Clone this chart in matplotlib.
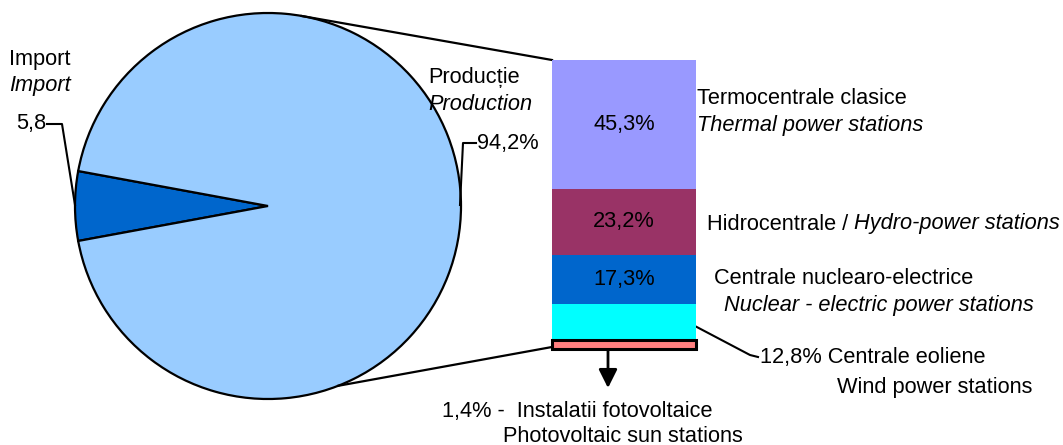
import numpy as np
import matplotlib
matplotlib.use("Agg")
import matplotlib.pyplot as plt

plt.rcParams['font.family'] = ['Liberation Sans', 'DejaVu Sans']

# ---- data ----
pie_labels_ro = ["Import", "Producție"]
pie_labels_en = ["Import", "Production"]
pie_values = [5.8, 94.2]
pie_value_text = ["5,8", "94,2%"]
pie_colors = ["#0066CC", "#99CCFF"]

bar_categories = ["Termocentrale clasice", "Hidrocentrale", "Centrale nuclearo-electrice",
                  "Centrale eoliene", "Instalatii fotovoltaice"]
bar_values = [45.3, 23.2, 17.3, 12.8, 1.4]
bar_value_text = ["45,3%", "23,2%", "17,3%", "12,8%", "1,4%"]
bar_colors = ["#9999FF", "#993366", "#0066CC", "#00FFFF", "#FF8080"]

W, H = 1063, 445
fig = plt.figure(figsize=(W / 100, H / 100), dpi=100)
ax = fig.add_axes([0, 0, 1, 1])

def P(px, py):
    return (px, H - py)

FS = 15.7
LW = 1.6
# ---- pie ----
cx, cy, R = 268, H - 206, 193
start = 180 - pie_values[0] / sum(pie_values) * 360 / 2
ax.pie(pie_values, colors=pie_colors, startangle=start, counterclock=True,
       center=(cx, cy), radius=R,
       wedgeprops=dict(edgecolor="black", linewidth=LW))
ax.set_xlim(0, W)
ax.set_ylim(0, H)
ax.set_aspect("equal")
ax.axis("off")

# ---- bar (own axes): four main segments ----
bar_left, bar_right, bar_top, bar_mid, bar_bot = 552, 696, 60, 340, 349
main_vals = bar_values[:4]
bax = fig.add_axes([bar_left / W, (H - bar_mid) / H, (bar_right - bar_left) / W,
                    (bar_mid - bar_top) / H])
bottoms = np.concatenate([[0], np.cumsum(main_vals)[:-1]])
bax.bar([0] * 4, main_vals, bottom=bottoms, width=1.0, color=bar_colors[:4],
        edgecolor="none", linewidth=0)
for i in range(3):
    bax.text(0, bottoms[i] + main_vals[i] / 2, bar_value_text[i], ha="center",
             va="center", fontsize=FS, color="black")
bax.set_xlim(-0.5, 0.5)
bax.set_ylim(sum(main_vals), 0)
bax.axis("off")

# small segment (photovoltaic), enlarged strip below
pax = fig.add_axes([bar_left / W, (H - bar_bot) / H, (bar_right - bar_left) / W,
                    (bar_bot - bar_mid) / H])
pax.bar(0, bar_values[4], bottom=0, width=1.0, color=bar_colors[4],
        edgecolor="black", linewidth=2.2, clip_on=False)
pax.set_xlim(-0.5, 0.5)
pax.set_ylim(bar_values[4], 0)
pax.axis("off")

# ---- connector lines ----
a_top, a_bot = np.deg2rad(80), np.deg2rad(-68.7)
ax.plot([cx + R * np.cos(a_top), bar_left], [cy + R * np.sin(a_top), H - bar_top],
        color="black", lw=LW)
ax.plot([cx + R * np.cos(a_bot), bar_left], [cy + R * np.sin(a_bot), H - 347],
        color="black", lw=LW)

# ---- pie labels ----
ax.text(*P(9, 60), pie_labels_ro[0], fontsize=FS, va="center", ha="left")
ax.text(*P(9, 86), pie_labels_en[0], fontsize=FS, va="center", ha="left", style="italic")
ax.text(*P(46, 124), pie_value_text[0], fontsize=FS, va="center", ha="right")
ax.plot(*zip(P(47, 124), P(62, 124), P(75, 205)), color="black", lw=1.5)

ax.text(*P(428, 78), pie_labels_ro[1], fontsize=FS, va="center", ha="left")
ax.text(*P(428, 105), pie_labels_en[1], fontsize=FS, va="center", ha="left", style="italic")
ax.text(*P(477, 143), pie_value_text[1], fontsize=FS, va="center", ha="left")
ax.plot(*zip(P(460, 205), P(463, 143), P(476, 143)), color="black", lw=1.5)

# ---- bar labels ----
ax.text(*P(697, 98), bar_categories[0], fontsize=FS, va="center", ha="left")
ax.text(*P(697, 126), "Thermal power stations", fontsize=FS, va="center", ha="left",
        style="italic")

t = ax.text(*P(707, 224), bar_categories[1] + " / ", fontsize=FS, va="center", ha="left")
ax.annotate("Hydro-power stations", xy=(1, 0.5), xycoords=t, va="center", ha="left",
            fontsize=FS, style="italic")

ax.text(*P(714, 278), bar_categories[2], fontsize=FS, va="center", ha="left")
ax.text(*P(724, 305), "Nuclear - electric power stations", fontsize=FS, va="center",
        ha="left", style="italic")

ax.text(*P(760, 357), bar_value_text[3] + " " + bar_categories[3], fontsize=FS,
        va="center", ha="left")
ax.text(*P(837, 387), "Wind power stations", fontsize=FS, va="center", ha="left")
ax.plot(*zip(P(693, 325), P(750, 355), P(758, 357)), color="black", lw=1.5)

ax.text(*P(442, 411), bar_value_text[4] + " -  " + bar_categories[4], fontsize=FS,
        va="center", ha="left")
ax.text(*P(503, 436), "Photovoltaic sun stations", fontsize=FS, va="center", ha="left")
ax.annotate("", xy=P(608, 388), xytext=P(608, 350),
            arrowprops=dict(arrowstyle="-|>", lw=2, color="black", mutation_scale=28,
                            shrinkA=0, shrinkB=0))

fig.savefig("out.png", dpi=100)
